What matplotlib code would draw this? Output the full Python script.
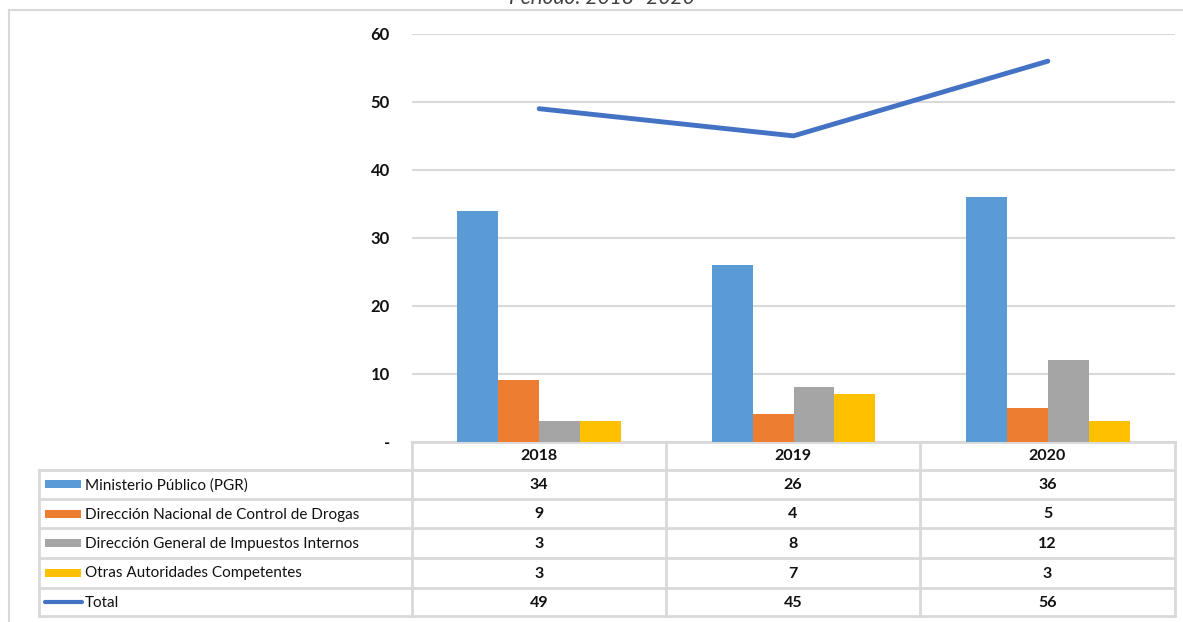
import numpy as np
import matplotlib.pyplot as plt

plt.rcParams['font.family'] = ['Lato', 'DejaVu Sans']

# datos
anios = ['2018', '2019', '2020']
series = ['Ministerio Público (PGR)',
          'Dirección Nacional de Control de Drogas',
          'Dirección General de Impuestos Internos',
          'Otras Autoridades Competentes']
ministerio = [34, 26, 36]
drogas = [9, 4, 5]
impuestos = [3, 8, 12]
otras = [3, 7, 3]
total = [49, 45, 56]
colores = ['#5B9BD5', '#ED7D31', '#A5A5A5', '#FFC000']
color_total = '#4472C4'
gris = '#D9D9D9'
negro = '#111111'

W, H = 1183, 622
fig = plt.figure(figsize=(W / 100, H / 100), dpi=100)

# capa en pixeles para marco y tabla
bg = fig.add_axes([0, 0, 1, 1])
bg.set_xlim(0, W)
bg.set_ylim(H, 0)
bg.axis('off')

# marco exterior
bg.plot([9, W], [10, 10], color=gris, lw=1.5)
bg.plot([9, 9], [10, H], color=gris, lw=1.5)

# titulo (cortado arriba, como en el original)
fig.text(602 / W, 1 - 4 / H, 'Período: 2018 -2020', ha='center', va='baseline',
         fontsize=15, style='italic', color='#404040')

# grafico de barras
x0, x1, y0, y1 = 412, 1175, 441.5, 34
ax = fig.add_axes([x0 / W, 1 - y0 / H, (x1 - x0) / W, (y0 - y1) / H])
x = np.arange(len(anios))
w = 0.161
valores = [ministerio, drogas, impuestos, otras]
for i, (vals, c) in enumerate(zip(valores, colores)):
    ax.bar(x + (i - 1.5) * w, vals, w, color=c, zorder=3)
ax.plot(x, total, color=color_total, lw=3.5, solid_capstyle='round', zorder=4)
ax.set_xlim(-0.5, 2.5)
ax.set_ylim(0, 60)
ax.set_yticks(range(0, 61, 10))
ax.set_yticklabels(['-'] + [str(v) for v in range(10, 61, 10)],
                   fontsize=12, fontweight='bold', color=negro)
ax.tick_params(axis='y', length=0, pad=16)
ax.set_xticks([])
ax.grid(axis='y', color=gris, lw=1.5, zorder=0)
for s in ax.spines.values():
    s.set_visible(False)
ax.patch.set_alpha(0)

# tabla de datos
cols = [412, 666, 920, 1175]
filas = [441.5, 469.5, 499, 528, 557.5, 587.5, 616]
izq = 39
bg.plot([cols[0], cols[-1]], [filas[0], filas[0]], color=gris, lw=2)
for yy in filas[1:]:
    bg.plot([izq, cols[-1]], [yy, yy], color=gris, lw=2)
for xx in cols:
    bg.plot([xx, xx], [filas[0], filas[-1]], color=gris, lw=2)
bg.plot([izq, izq], [filas[1], filas[-1]], color=gris, lw=2)

centros = [(cols[j] + cols[j + 1]) / 2 for j in range(3)]
for j, a in enumerate(anios):
    bg.text(centros[j], (filas[0] + filas[1]) / 2 + 1, a, ha='center', va='center',
            fontsize=11.5, fontweight='bold', color=negro)

etiquetas = series + ['Total']
todas = valores + [total]
for r, (lab, vals) in enumerate(zip(etiquetas, todas)):
    yc = (filas[r + 1] + filas[r + 2]) / 2
    if r < 4:
        bg.add_patch(plt.Rectangle((45, yc - 4), 36, 8, color=colores[r], lw=0))
    else:
        bg.plot([45, 82], [yc, yc], color=color_total, lw=3, solid_capstyle='round')
    bg.text(85, yc + 1, lab, ha='left', va='center', fontsize=11, color=negro)
    for j, v in enumerate(vals):
        bg.text(centros[j], yc + 1, str(v), ha='center', va='center',
                fontsize=11.5, fontweight='bold', color=negro)

fig.savefig('out.png', dpi=100)
